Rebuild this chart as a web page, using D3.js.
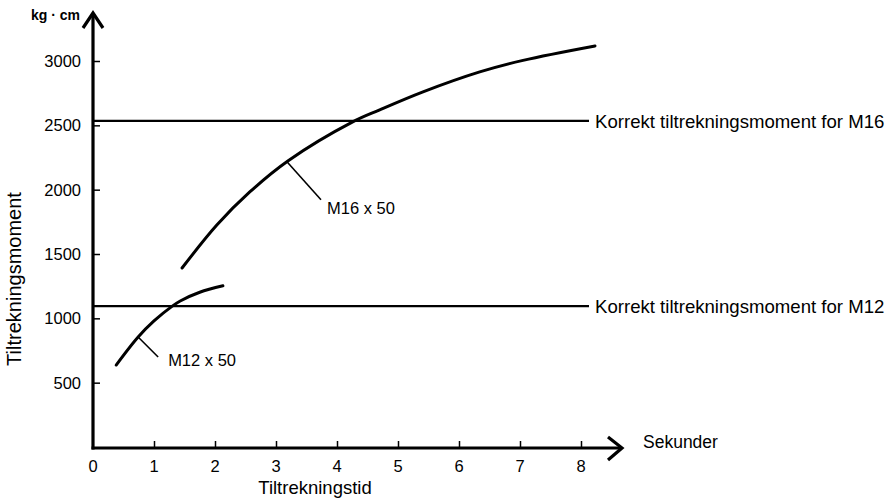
<!DOCTYPE html>
<html><head><meta charset="utf-8">
<script src="https://cdn.jsdelivr.net/npm/d3@7"></script>
<style>body{margin:0;background:#fff;} text{font-family:"Liberation Sans",Arial,sans-serif;fill:#000;}</style>
</head><body>
<svg id="c" width="892" height="498"></svg>
<script>
// Data
const xTicks = [0,1,2,3,4,5,6,7,8];
const yTicks = [500,1000,1500,2000,2500,3000];
const m16T = [1.46, 2.03, 2.57, 3.20, 4.25, 4.70, 5.41, 6.34, 7.05, 8.23];
const m16V = [1391, 1725, 1982, 2225, 2525, 2620, 2760, 2915, 3005, 3117];
const m12T = [0.38, 0.74, 1.00, 1.30, 1.43, 1.75, 2.13];
const m12V = [637, 855, 980, 1095, 1135, 1203, 1253];
const refValues = [2535, 1095];
const refLabels = ["Korrekt tiltrekningsmoment for M16", "Korrekt tiltrekningsmoment for M12"];
const curveLabels = ["M16 x 50", "M12 x 50"];
const leaderT = [3.18, 0.74];
const xTitle = "Tiltrekningstid", yTitle = "Tiltrekningsmoment", unitLabel = "kg · cm", xUnit = "Sekunder";

const svg = d3.select("#c");
const x = d3.scaleLinear().domain([0,8]).range([93,581]);
const y = d3.scaleLinear().domain([0,3000]).range([447,61]);
const x0 = x(0), y0 = y(0) + 1;
const xEnd = 622, yTop = 13;

// axes lines
svg.append("line").attr("x1",x0).attr("y1",y0+1.5).attr("x2",x0).attr("y2",yTop+1)
  .attr("stroke","#000").attr("stroke-width",3.2);
svg.append("line").attr("x1",x0-1.5).attr("y1",y0).attr("x2",xEnd-1).attr("y2",y0)
  .attr("stroke","#000").attr("stroke-width",3.2);
// arrowheads
svg.append("path").attr("d",`M${x0-10},${yTop+15}L${x0},${yTop}L${x0+10},${yTop+15}`)
  .attr("fill","none").attr("stroke","#000").attr("stroke-width",3.2);
svg.append("path").attr("d",`M${xEnd-14},${y0-11}L${xEnd},${y0}L${xEnd-14},${y0+12}`)
  .attr("fill","none").attr("stroke","#000").attr("stroke-width",3.2);

// y axis ticks & labels
const yAx = svg.append("g").attr("transform",`translate(${x0},0)`)
  .call(d3.axisRight(y).tickValues(yTicks).tickSize(7).tickFormat(""));
yAx.select(".domain").remove();
yAx.selectAll("line").attr("stroke","#000").attr("stroke-width",1.5);
svg.selectAll(".ylab").data(yTicks).join("text").attr("class","ylab")
  .attr("x",x0-12).attr("y",d=>y(d)).attr("dy","0.36em").attr("text-anchor","end")
  .style("font-size","16.5px").text(d=>d);

// x axis ticks & labels
const xAx = svg.append("g").attr("transform",`translate(0,${y0})`)
  .call(d3.axisTop(x).tickValues(xTicks.slice(1)).tickSize(7).tickFormat(""));
xAx.select(".domain").remove();
xAx.selectAll("line").attr("stroke","#000").attr("stroke-width",1.5);
svg.selectAll(".xlab").data(xTicks).join("text").attr("class","xlab")
  .attr("x",d=>x(d)).attr("y",466).attr("dy","0.36em").attr("text-anchor","middle")
  .style("font-size","16.5px").text(d=>d);

// titles
svg.append("text").attr("x",80).attr("y",20).attr("text-anchor","end")
  .style("font-size","14px").style("font-weight","bold").text(unitLabel);
svg.append("text").attr("x",643).attr("y",442).attr("dy","0.36em")
  .style("font-size","17.5px").text(xUnit);
svg.append("text").attr("x",315).attr("y",487).attr("dy","0.36em").attr("text-anchor","middle")
  .style("font-size","18.5px").text(xTitle);
svg.append("text").attr("transform","translate(14,279) rotate(-90)").attr("dy","0.36em")
  .attr("text-anchor","middle").style("font-size","20px").text(yTitle);

// reference lines
refValues.forEach((v,i)=>{
  svg.append("line").attr("x1",x0).attr("x2",589).attr("y1",y(v)).attr("y2",y(v))
    .attr("stroke","#000").attr("stroke-width",2.2);
  svg.append("text").attr("x",595).attr("y",y(v)).attr("dy","0.36em")
    .style("font-size","18.6px").text(refLabels[i]);
});

// curves
const line = d3.line().x(d=>x(d[0])).y(d=>y(d[1])).curve(d3.curveCatmullRom.alpha(0.5));
const series = [d3.zip(m16T,m16V), d3.zip(m12T,m12V)];
series.forEach(s=>{
  svg.append("path").attr("d",line(s)).attr("fill","none")
    .attr("stroke","#000").attr("stroke-width",3).attr("stroke-linecap","round");
});

// leaders and labels
const leaderOff = [[34,38],[20,20]];
const labelOff = [[6,8],[10,3]];
series.forEach((s,i)=>{
  const t = leaderT[i];
  const v = d3.scaleLinear().domain(s.map(d=>d[0])).range(s.map(d=>d[1]))(t);
  const px = x(t), py = y(v);
  const ex = px+leaderOff[i][0], ey = py+leaderOff[i][1];
  svg.append("line").attr("x1",px).attr("y1",py).attr("x2",ex).attr("y2",ey)
    .attr("stroke","#000").attr("stroke-width",1.6);
  svg.append("text").attr("x",ex+labelOff[i][0]).attr("y",ey+labelOff[i][1]).attr("dy","0.36em")
    .style("font-size","16.5px").text(curveLabels[i]);
});
</script>
</body></html>
